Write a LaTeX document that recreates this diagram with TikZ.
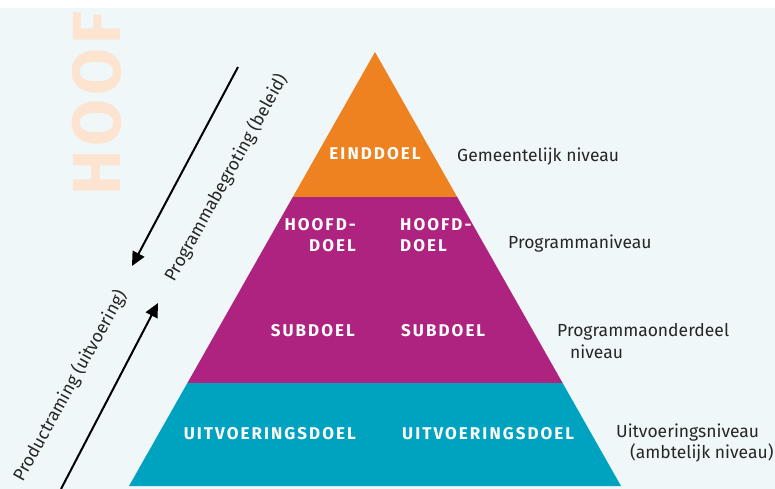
\documentclass[tikz,border=0pt]{standalone}
\usepackage{fontspec}
\setmainfont{Fira Sans}
\newfontfamily\lab{Fira Sans}
\newfontfamily\blab[LetterSpace=12]{Fira Sans}
\newfontfamily\hooffont[LetterSpace=6]{Fira Sans}
\usetikzlibrary{arrows.meta}
\definecolor{bgc}{HTML}{EFF7F9}
\definecolor{orng}{HTML}{EE8220}
\definecolor{mgnt}{HTML}{AE2280}
\definecolor{teal}{HTML}{00A3BF}
\definecolor{hoofc}{HTML}{FCE4D1}
\tikzset{
  lvl/.style={fill=#1,draw=none},
  goal/.style={inner sep=0pt,text=white,font=\blab\bfseries\fontsize{17}{21}\selectfont},
  side/.style={inner sep=0pt,text=black!85,font=\lab\fontsize{17.5}{21}\selectfont},
  diag/.style={inner sep=0pt,text=black!85,font=\lab\fontsize{17.6}{20}\selectfont,rotate=61},
  arr/.style={line width=2pt,-{Triangle[length=14pt,width=13pt]}}
}
\begin{document}
\begin{tikzpicture}[x=1pt,y=-1pt]
\useasboundingbox (0,0) rectangle (775,489);
\fill[bgc] (0,8) rectangle (775,489);
\begin{scope}
\clip (0,8) rectangle (775,489);
\node[inner sep=0pt,text=hoofc,rotate=90,font=\hooffont\bfseries\fontsize{68}{68}\selectfont] (hoof) at (97,103.5) {HOOF};
\end{scope}
% pyramid
\coordinate (apex) at (375,52);
\coordinate (l1) at (292.8,197);
\coordinate (r1) at (457.2,197);
\coordinate (l2) at (187.4,383);
\coordinate (r2) at (562.6,383);
\coordinate (bl) at (129,486);
\coordinate (br) at (621,486);
\fill[lvl=orng] (apex) -- (r1) -- (l1) -- cycle;
\fill[lvl=mgnt] (l1) -- (r1) -- (r2) -- (l2) -- cycle;
\fill[lvl=teal] (l2) -- (r2) -- (br) -- (bl) -- cycle;
% goal labels
\node[goal,anchor=base] (eind) at (375,160) {EINDDOEL};
\node[goal,anchor=base east,align=right] (hd1) at (356,251) {HOOFD-\\DOEL};
\node[goal,anchor=base west,align=left] (hd2) at (400,251) {HOOFD-\\DOEL};
\node[goal,anchor=base east] (sd1) at (355,336) {SUBDOEL};
\node[goal,anchor=base west] (sd2) at (401,336) {SUBDOEL};
\node[goal,anchor=base east] (ud1) at (356,439) {UITVOERINGSDOEL};
\node[goal,anchor=base west] (ud2) at (402,439) {UITVOERINGSDOEL};
% side labels
\node[side,anchor=base west] (gem) at (457,161) {Gemeentelijk niveau};
\node[side,anchor=base west] (prog) at (508,248) {Programmaniveau};
\node[side,anchor=base west] (pod) at (557,336) {Programmaonderdeel};
\node[side,anchor=base west] (pod2) at (570,358) {niveau};
\node[side,anchor=base west] (uitv) at (616,437) {Uitvoeringsniveau};
\node[side,anchor=base west] (amb) at (630,458) {(ambtelijk niveau)};
% arrows
\coordinate (a1s) at (238,67);
\coordinate (a1e) at (132,266);
\coordinate (a2s) at (61,489);
\coordinate (a2e) at (158,303);
\draw[arr] (a1s) -- (a1e);
\draw[arr] (a2s) -- (a2e);
\node[diag] (pb) at (226,178) {Programmabegroting (beleid)};
\node[diag] (pu) at (70,386) {Productraming (uitvoering)};
\end{tikzpicture}
\end{document}
